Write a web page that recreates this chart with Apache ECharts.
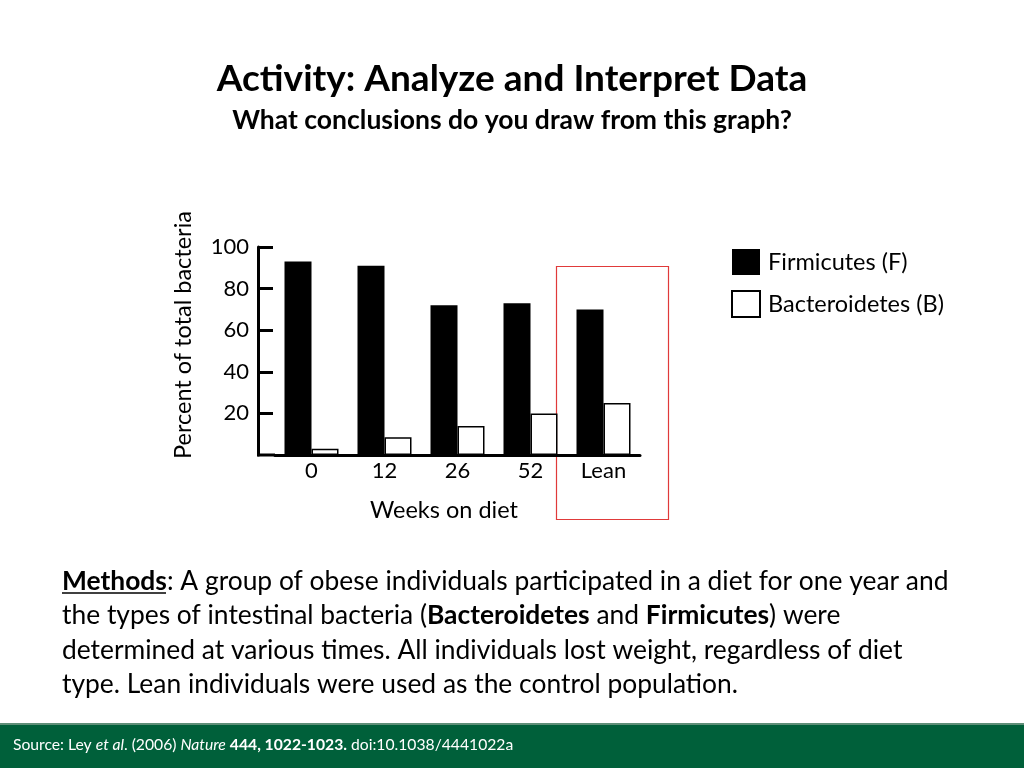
<!DOCTYPE html>
<html>
<head>
<meta charset="utf-8">
<script src="https://cdn.jsdelivr.net/npm/echarts@6/dist/echarts.min.js"></script>
<style>
  html, body { margin: 0; padding: 0; background: #fff; }
  #chart { width: 1024px; height: 768px; }
</style>
</head>
<body>
<div id="chart"></div>
<script>
// weeks on diet + lean control
const categories = ['0', '12', '26', '52', 'Lean'];
// percent of total bacteria
const firmicutes = [93, 91, 72, 73, 70];
const bacteroidetes = [3, 8.5, 14, 20, 25];
const seriesNames = ['Firmicutes (F)', 'Bacteroidetes (B)'];

const FONT = 'Lato';
const grid = { left: 275, top: 247, width: 365, height: 208 };

const chart = echarts.init(document.getElementById('chart'));

chart.setOption({
  animation: false,
  textStyle: { fontFamily: FONT, color: '#000' },
  title: [
    {
      text: 'Activity: Analyze and Interpret Data',
      left: 512,
      top: 61,
      padding: 0,
      textAlign: 'center',
      textStyle: { fontSize: 37, fontWeight: 'bold', color: '#000', fontFamily: FONT },
    },
    {
      text: 'What conclusions do you draw from this graph?',
      left: 512,
      top: 107,
      padding: 0,
      textAlign: 'center',
      textStyle: { fontSize: 26.5, fontWeight: 'bold', color: '#000', fontFamily: FONT },
    },
    {
      text: 'Weeks on diet',
      left: 444,
      top: 498,
      padding: 0,
      textAlign: 'center',
      textStyle: { fontSize: 23.5, fontWeight: 'normal', color: '#000', fontFamily: FONT },
    },
    {
      // 方法说明
      text: '{b|Methods}: A group of obese individuals participated in a diet for one year and\n' +
        'the types of intestinal bacteria ({b|Bacteroidetes} and {b|Firmicutes}) were\n' +
        'determined at various times. All individuals lost weight, regardless of diet\n' +
        'type. Lean individuals were used as the control population.',
      left: 62,
      top: 564,
      padding: 0,
      textStyle: {
        fontSize: 26.4,
        fontWeight: 'normal',
        color: '#000',
        fontFamily: FONT,
        lineHeight: 34.5,
        rich: {
          b: { fontSize: 26.4, fontWeight: 'bold', fontFamily: FONT, lineHeight: 34.5 },
        },
      },
    },
    {
      // 来源
      text: 'Source: Ley {i|et al}. (2006) {i|Nature} {b|444, 1022-1023.} doi:10.1038/4441022a',
      left: 13,
      top: 737,
      padding: 0,
      textStyle: {
        fontSize: 15.7,
        fontWeight: 'normal',
        color: '#fff',
        fontFamily: FONT,
        rich: {
          i: { fontSize: 15.7, fontStyle: 'italic', color: '#fff', fontFamily: FONT },
          b: { fontSize: 15.7, fontWeight: 'bold', color: '#fff', fontFamily: FONT },
        },
      },
    },
  ],
  legend: {
    orient: 'vertical',
    left: 731,
    top: 249,
    padding: 0,
    itemWidth: 28,
    itemHeight: 26,
    itemGap: 15,
    icon: 'rect',
    textStyle: { fontSize: 23.5, color: '#000', fontFamily: FONT, padding: [0, 0, 0, 3] },
    data: seriesNames,
  },
  grid: grid,
  xAxis: {
    type: 'category',
    data: categories,
    axisLine: { lineStyle: { color: '#000', width: 3 } },
    axisTick: { show: false },
    axisLabel: { fontSize: 22, color: '#000', margin: 5, fontFamily: FONT },
  },
  yAxis: {
    type: 'value',
    min: 0,
    max: 100,
    interval: 20,
    offset: 17,
    name: 'Percent of total bacteria',
    nameLocation: 'middle',
    nameGap: 63,
    nameTextStyle: { fontSize: 23.5, color: '#000', fontFamily: FONT, padding: [0, 0, 0, 32] },
    axisLine: { show: true, lineStyle: { color: '#000', width: 3 } },
    axisTick: { show: true, inside: true, length: 15, lineStyle: { color: '#000', width: 3 } },
    axisLabel: { fontSize: 22, color: '#000', margin: 9, showMinLabel: false, fontFamily: FONT },
    splitLine: { show: false },
  },
  series: [
    {
      name: seriesNames[0],
      type: 'bar',
      data: firmicutes,
      barWidth: 27,
      barGap: '0%',
      itemStyle: { color: '#000' },
    },
    {
      name: seriesNames[1],
      type: 'bar',
      data: bacteroidetes,
      barWidth: 27,
      itemStyle: { color: '#fff', borderColor: '#000', borderWidth: 1.5 },
    },
  ],
  graphic: [
    // x 轴左侧补线
    {
      type: 'line',
      shape: { x1: grid.left - 18, y1: grid.top + grid.height, x2: grid.left, y2: grid.top + grid.height },
      style: { stroke: '#000', lineWidth: 3 },
    },
    // Lean 红框
    {
      type: 'rect',
      shape: { x: 556.5, y: 266.5, width: 112, height: 253 },
      style: { fill: 'none', stroke: '#e03a3a', lineWidth: 1.2 },
    },
    // Methods 下划线
    {
      type: 'line',
      shape: { x1: 62, y1: 593, x2: 166, y2: 593 },
      style: { stroke: '#000', lineWidth: 1.5 },
    },
    // 底部绿条
    {
      type: 'rect',
      z: -1,
      shape: { x: 0, y: 725, width: 1024, height: 43 },
      style: { fill: '#00603a' },
    },
    {
      type: 'rect',
      z: -1,
      shape: { x: 0, y: 723, width: 1024, height: 2 },
      style: { fill: '#5f8f78' },
    },
  ],
});
</script>
</body>
</html>
